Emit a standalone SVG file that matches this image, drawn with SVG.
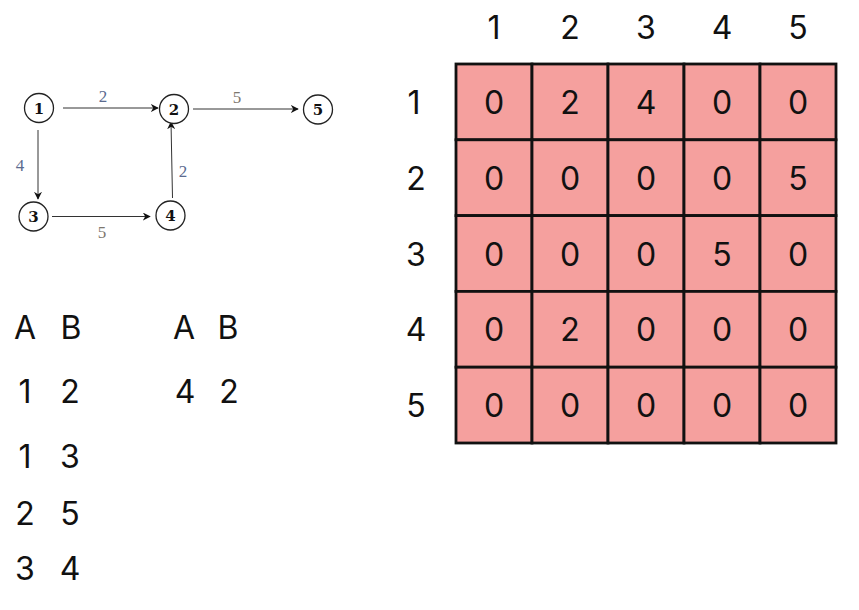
<svg xmlns="http://www.w3.org/2000/svg" width="859" height="610" viewBox="0 0 859 610">
<style>
.nc{fill:#fff;stroke:#222;stroke-width:1.3}
.nl{font-family:"DejaVu Serif","Liberation Serif",serif;font-weight:bold;font-size:15px;text-anchor:middle;fill:#111}
.el{font-family:"Liberation Serif",serif;font-size:17px;text-anchor:middle}
.eb{fill:#5b6b8f}
.eg{fill:#7d776e}
.cn{fill:none;stroke:#333;stroke-width:1}
.t{font-family:Inter,"Liberation Sans",sans-serif;font-size:32px;text-anchor:middle;fill:#111}
.cell{fill:#f5a09e;stroke:#111;stroke-width:2.8}
</style>
<defs>
<marker id="ah" viewBox="0 0 10 10" refX="9" refY="5" markerWidth="8" markerHeight="8" markerUnits="userSpaceOnUse" orient="auto">
<path d="M0,0 L10,5 L0,10 L3,5 z" fill="#111"/>
</marker>
</defs>
<rect width="859" height="610" fill="#fff"/>
<g id="connectors">
<line class="cn" x1="63" y1="108" x2="158" y2="108" marker-end="url(#ah)"/>
<line class="cn" x1="193" y1="109" x2="298" y2="109" marker-end="url(#ah)"/>
<line class="cn" x1="38" y1="130" x2="38" y2="199" marker-end="url(#ah)"/>
<line class="cn" x1="52" y1="216.5" x2="150" y2="216.5" marker-end="url(#ah)"/>
<line class="cn" x1="172.5" y1="198" x2="171" y2="122" marker-end="url(#ah)"/>
<text class="el eb" x="103" y="102">2</text>
<text class="el eg" x="237" y="103">5</text>
<text class="el eb" x="20" y="171">4</text>
<text class="el eb" x="183" y="177">2</text>
<text class="el eg" x="102" y="238">5</text>
</g>
<g id="node1"><circle class="nc" cx="39" cy="108" r="14.5"/><text class="nl" x="39" y="113.5">1</text></g>
<g id="node2"><circle class="nc" cx="174" cy="109" r="14.5"/><text class="nl" x="174" y="114.5">2</text></g>
<g id="node5"><circle class="nc" cx="318" cy="109.5" r="14.5"/><text class="nl" x="318" y="115">5</text></g>
<g id="node3"><circle class="nc" cx="33.5" cy="216.5" r="14.5"/><text class="nl" x="33.5" y="222">3</text></g>
<g id="node4"><circle class="nc" cx="170.5" cy="215.5" r="14.5"/><text class="nl" x="170.5" y="221">4</text></g>
<g id="edge-lists">
<text class="t" x="25" y="339">A</text><text class="t" x="71" y="339">B</text>
<text class="t" x="25" y="403">1</text><text class="t" x="70" y="403">2</text>
<text class="t" x="25" y="468">1</text><text class="t" x="70" y="468">3</text>
<text class="t" x="25" y="525">2</text><text class="t" x="70" y="525">5</text>
<text class="t" x="25" y="580">3</text><text class="t" x="70" y="580">4</text>
<text class="t" x="184" y="339">A</text><text class="t" x="228" y="339">B</text>
<text class="t" x="185" y="403">4</text><text class="t" x="229" y="403">2</text>
</g>
<g id="matrix">
<g id="col-headers">
<text class="t" x="494" y="39">1</text><text class="t" x="570" y="39">2</text><text class="t" x="646" y="39">3</text><text class="t" x="722" y="39">4</text><text class="t" x="798" y="39">5</text>
</g>
<g id="row-headers">
<text class="t" x="414" y="114">1</text><text class="t" x="416" y="190">2</text><text class="t" x="416" y="266">3</text><text class="t" x="416" y="341">4</text><text class="t" x="416" y="417">5</text>
</g>
<g id="cells">
<rect class="cell" x="456" y="64" width="76" height="75.8"/><rect class="cell" x="532" y="64" width="76" height="75.8"/><rect class="cell" x="608" y="64" width="76" height="75.8"/><rect class="cell" x="684" y="64" width="76" height="75.8"/><rect class="cell" x="760" y="64" width="76" height="75.8"/>
<rect class="cell" x="456" y="139.8" width="76" height="75.8"/><rect class="cell" x="532" y="139.8" width="76" height="75.8"/><rect class="cell" x="608" y="139.8" width="76" height="75.8"/><rect class="cell" x="684" y="139.8" width="76" height="75.8"/><rect class="cell" x="760" y="139.8" width="76" height="75.8"/>
<rect class="cell" x="456" y="215.6" width="76" height="75.8"/><rect class="cell" x="532" y="215.6" width="76" height="75.8"/><rect class="cell" x="608" y="215.6" width="76" height="75.8"/><rect class="cell" x="684" y="215.6" width="76" height="75.8"/><rect class="cell" x="760" y="215.6" width="76" height="75.8"/>
<rect class="cell" x="456" y="291.4" width="76" height="75.8"/><rect class="cell" x="532" y="291.4" width="76" height="75.8"/><rect class="cell" x="608" y="291.4" width="76" height="75.8"/><rect class="cell" x="684" y="291.4" width="76" height="75.8"/><rect class="cell" x="760" y="291.4" width="76" height="75.8"/>
<rect class="cell" x="456" y="367.2" width="76" height="75.8"/><rect class="cell" x="532" y="367.2" width="76" height="75.8"/><rect class="cell" x="608" y="367.2" width="76" height="75.8"/><rect class="cell" x="684" y="367.2" width="76" height="75.8"/><rect class="cell" x="760" y="367.2" width="76" height="75.8"/>
</g>
<g id="values">
<text class="t" x="494" y="114">0</text><text class="t" x="570" y="114">2</text><text class="t" x="646" y="114">4</text><text class="t" x="722" y="114">0</text><text class="t" x="798" y="114">0</text>
<text class="t" x="494" y="190">0</text><text class="t" x="570" y="190">0</text><text class="t" x="646" y="190">0</text><text class="t" x="722" y="190">0</text><text class="t" x="798" y="190">5</text>
<text class="t" x="494" y="266">0</text><text class="t" x="570" y="266">0</text><text class="t" x="646" y="266">0</text><text class="t" x="722" y="266">5</text><text class="t" x="798" y="266">0</text>
<text class="t" x="494" y="341">0</text><text class="t" x="570" y="341">2</text><text class="t" x="646" y="341">0</text><text class="t" x="722" y="341">0</text><text class="t" x="798" y="341">0</text>
<text class="t" x="494" y="417">0</text><text class="t" x="570" y="417">0</text><text class="t" x="646" y="417">0</text><text class="t" x="722" y="417">0</text><text class="t" x="798" y="417">0</text>
</g>
</g>
</svg>
